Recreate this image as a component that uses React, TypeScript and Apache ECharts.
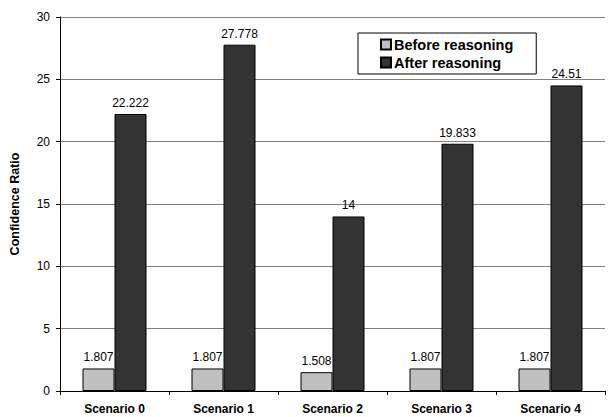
import React, { useEffect, useRef } from "react";
import * as echarts from "echarts";

const categories = ["Scenario 0", "Scenario 1", "Scenario 2", "Scenario 3", "Scenario 4"];
const beforeReasoning = [1.807, 1.807, 1.508, 1.807, 1.807];
const afterReasoning = [22.222, 27.778, 14, 19.833, 24.51];
const yTicks = [0, 5, 10, 15, 20, 25, 30];

const FONT = "'Liberation Sans', Arial, sans-serif";

export default function App() {
  const ref = useRef<HTMLDivElement>(null);

  useEffect(() => {
    if (!ref.current) return;
    const chart = echarts.init(ref.current, undefined, { renderer: "svg" });
    const valueLabel = {
      show: true,
      position: "top" as const,
      distance: 5,
      color: "#000",
      fontFamily: FONT,
      fontSize: 12,
      formatter: (p: any) => String(p.value),
    };
    chart.setOption({
      animation: false,
      backgroundColor: "#fff",
      textStyle: { fontFamily: FONT },
      grid: { left: 57, right: 5, top: 17, bottom: 26, containLabel: false },
      legend: {
        orient: "vertical",
        left: 358,
        top: 33,
        padding: [4, 23, 4, 22],
        itemGap: 3,
        itemWidth: 10,
        itemHeight: 10,
        borderColor: "#000",
        borderWidth: 1,
        textStyle: { fontFamily: FONT, fontSize: 14.5, fontWeight: "bold", color: "#000", padding: [0, 0, 0, -2] },
        data: [
          { name: "Before reasoning", icon: "rect" },
          { name: "After reasoning", icon: "rect" },
        ],
      },
      xAxis: {
        type: "category",
        data: categories,
        axisLine: { lineStyle: { color: "#000", width: 1 } },
        axisTick: { show: true, alignWithLabel: false, length: 4, lineStyle: { color: "#000" } },
        axisLabel: {
          color: "#000",
          fontFamily: FONT,
          fontSize: 12,
          fontWeight: "bold",
          margin: 12,
        },
      },
      yAxis: {
        type: "value",
        min: yTicks[0],
        max: yTicks[yTicks.length - 1],
        interval: 5,
        name: "Confidence Ratio",
        nameLocation: "middle",
        nameGap: 39,
        nameTextStyle: { fontFamily: FONT, fontSize: 12.5, fontWeight: "bold", color: "#000" },
        axisLine: { show: true, lineStyle: { color: "#000", width: 1 } },
        axisTick: { show: true, length: 4, lineStyle: { color: "#000" } },
        axisLabel: { color: "#000", fontFamily: FONT, fontSize: 12, margin: 10 },
        splitLine: { show: true, lineStyle: { color: "#808080", width: 1 } },
      },
      series: [
        {
          name: "Before reasoning",
          type: "bar",
          data: beforeReasoning,
          barWidth: 32,
          barGap: "0%",
          itemStyle: { color: "#c0c0c0", borderColor: "#000", borderWidth: 1 },
          label: valueLabel,
        },
        {
          name: "After reasoning",
          type: "bar",
          data: afterReasoning,
          barWidth: 32,
          barGap: "0%",
          itemStyle: { color: "#333333", borderColor: "#000", borderWidth: 1 },
          label: valueLabel,
        },
      ],
    });
    return () => chart.dispose();
  }, []);

  return <div ref={ref} style={{ width: 610, height: 417, position: "absolute", left: 0, top: 0 }} />;
}
